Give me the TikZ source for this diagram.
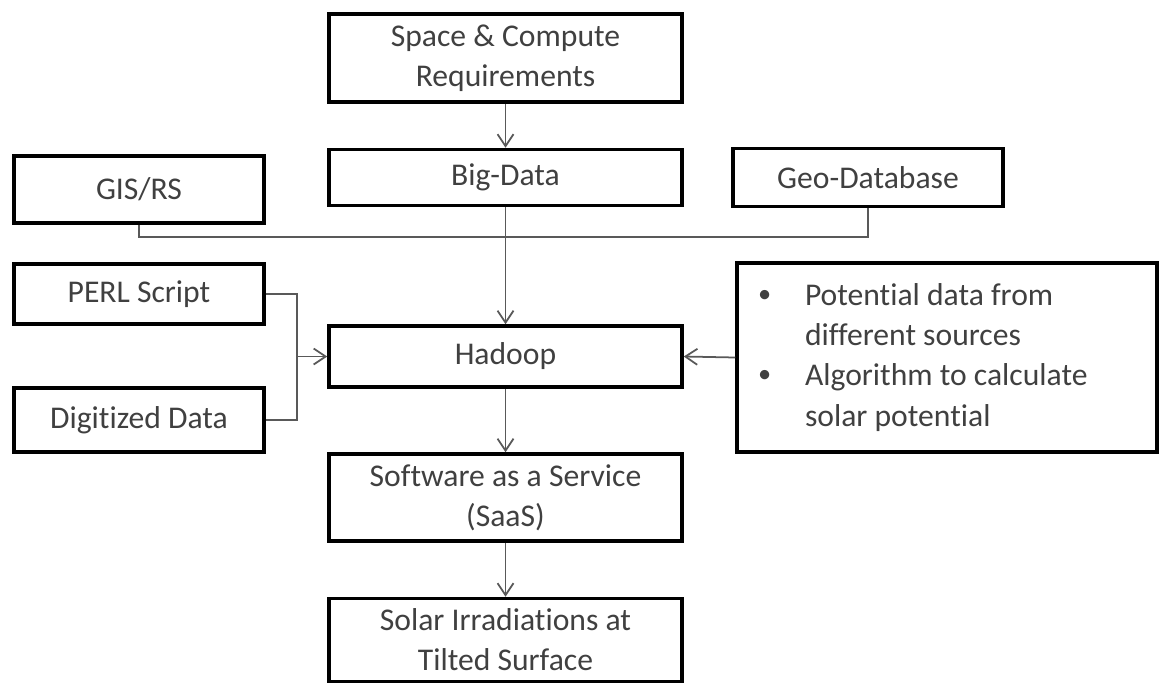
\documentclass[tikz,border=0pt]{standalone}
\usepackage{fontspec}
\setmainfont{Carlito}[Ligatures=NoCommon]
\usetikzlibrary{arrows.meta}

\newcommand{\dotitem}{\makebox[0.96cm][l]{\hspace{0.02cm}\raisebox{0.1em}{\fontsize{15}{15}\selectfont\textbullet}}}
\newcommand{\dotskip}{\hspace*{0.96cm}}

\begin{document}
\begin{tikzpicture}[
    box/.style={draw=black, line width=2pt, text=black!75, inner sep=0pt, align=center,
        font=\fontsize{18}{22.8}\selectfont},
    link/.style={draw=black!65, line width=1pt},
    arr/.style={link, -{Straight Barb[length=2.4mm, width=3.2mm]}}
]
    \useasboundingbox (0,0) rectangle (23.18,-13.68);
    \node[box, minimum width=7.06cm, minimum height=1.76cm] (space) at (10.11,-1.16) {Space \& Compute\\Requirements};
    \node[box, minimum width=7.06cm, minimum height=1.12cm] (bigdata) at (10.11,-3.55) {Big-Data};
    \node[box, minimum width=5cm, minimum height=1.34cm] (gis) at (2.78,-3.79) {GIS/RS};
    \node[box, minimum width=5.4cm, minimum height=1.16cm] (geodb) at (17.36,-3.55) {Geo-Database};
    \node[box, minimum width=5cm, minimum height=1.2cm] (perl) at (2.78,-5.88) {PERL Script};
    \node[box, minimum width=5cm, minimum height=1.28cm] (digitized) at (2.78,-8.4) {Digitized Data};
    \node[box, minimum width=7.06cm, minimum height=1.22cm] (hadoop) at (10.11,-7.13) {Hadoop};
    \node[box, minimum width=8.4cm, minimum height=3.78cm, inner xsep=0.4cm, text width=7.6cm, align=flush left] (inputs) at (18.94,-7.15)
        {\dotitem Potential data from\\\dotskip different sources\\\dotitem Algorithm to calculate\\\dotskip solar potential};
    \node[box, minimum width=7.06cm, minimum height=1.74cm] (saas) at (10.11,-9.95) {Software as a Service\\(SaaS)};
    \node[box, minimum width=7.06cm, minimum height=1.66cm] (solar) at (10.11,-12.8) {Solar Irradiations at\\Tilted Surface};

    \coordinate (bus) at (0,-4.74);
    \coordinate (merge) at (5.94,-7.13);

    \draw[arr] (space) -- (bigdata);
    \draw[link] (gis.south) -- (gis.south |- bus) -- (geodb.south |- bus) -- (geodb.south);
    \draw[arr] (bigdata) -- (hadoop);
    \draw[link] (perl.east) -| (merge) |- (digitized.east);
    \draw[arr] (merge) -- (hadoop.west);
    \draw[arr] (inputs.west) -- (hadoop.east);
    \draw[arr] (hadoop) -- (saas);
    \draw[arr] (saas) -- (solar);
\end{tikzpicture}
\end{document}
